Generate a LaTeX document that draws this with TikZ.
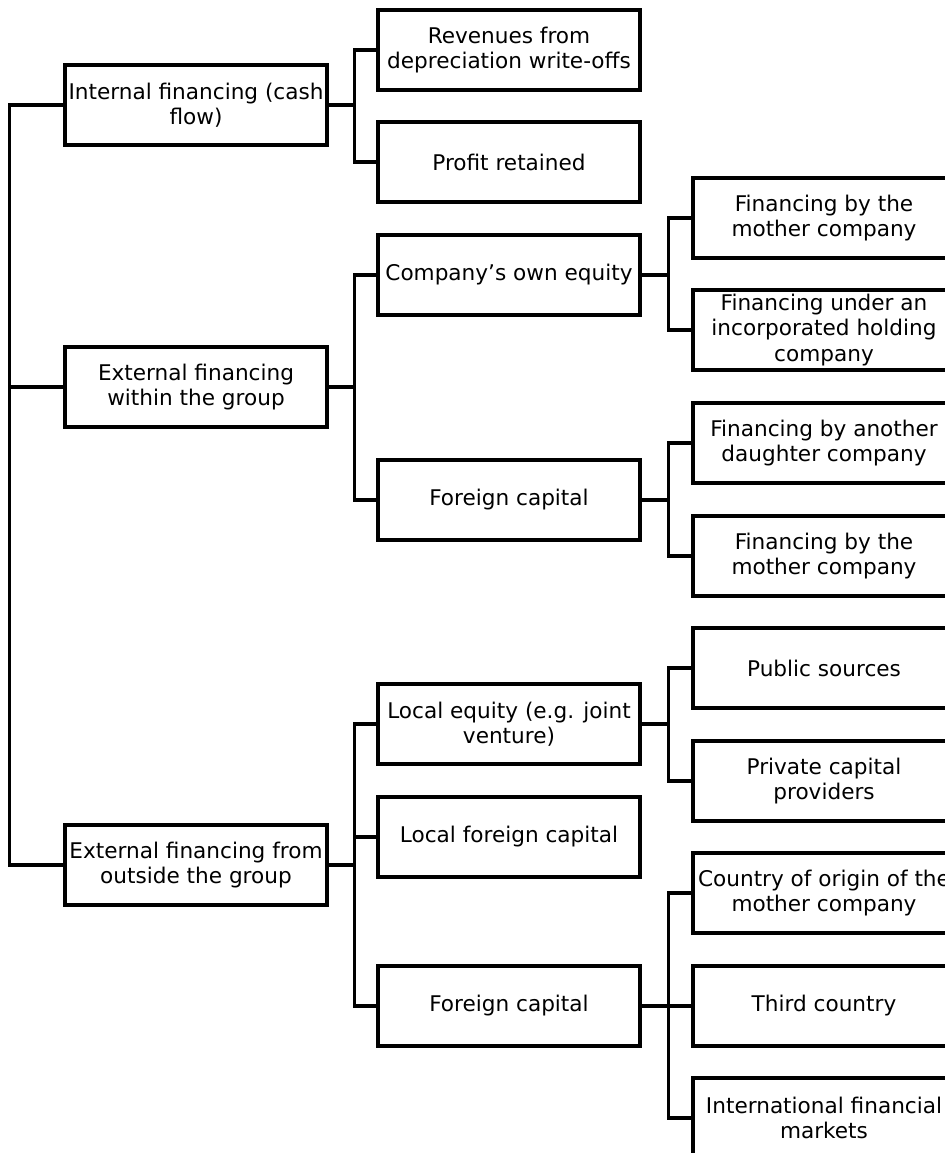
\documentclass[tikz,border=0pt]{standalone}
\usepackage{fontspec}
\setmainfont{DejaVu Sans}

\tikzset{
  fbox/.style={draw, line width=2.3pt, minimum width=196.5pt, minimum height=60pt,
    inner sep=0pt, align=center, font=\fontsize{16.2}{18.9}\selectfont},
  link/.style={line width=2.3pt}
}

\begin{document}
\begin{tikzpicture}[x=0.75pt,y=-0.75pt]
\useasboundingbox (0,0) rectangle (945,1153);
\clip (0,0) rectangle (945,1153);

% first column
\node[fbox] (int) at (196,105) {Internal financing (cash\\flow)};
\node[fbox] (grp) at (196,387) {External financing\\within the group};
\node[fbox] (out) at (196,865) {External financing from\\outside the group};

% second column
\node[fbox] (rev) at (509,50) {Revenues from\\depreciation write-offs};
\node[fbox] (profit) at (509,162) {Profit retained};
\node[fbox] (equity) at (509,275) {Company's own equity};
\node[fbox] (fcap) at (509,500) {Foreign capital};
\node[fbox] (loceq) at (509,724) {Local equity (e.g. joint\\venture)};
\node[fbox] (locfc) at (509,837) {Local foreign capital};
\node[fbox] (fcapo) at (509,1006) {Foreign capital};

% third column
\node[fbox] (mother) at (824,218) {Financing by the\\mother company};
\node[fbox] (holding) at (824,330) {Financing under an\\incorporated holding\\company};
\node[fbox] (daughter) at (824,443) {Financing by another\\daughter company};
\node[fbox] (mother2) at (824,556) {Financing by the\\mother company};
\node[fbox] (public) at (824,668) {Public sources};
\node[fbox] (private) at (824,781) {Private capital\\providers};
\node[fbox] (origin) at (824,893) {Country of origin of the\\mother company};
\node[fbox] (third) at (824,1006) {Third country};
\node[fbox] (intl) at (824,1118) {International financial\\markets};

% left spine
\draw[link] (int.west) -- ++(-54,0) coordinate (s0) |- (out.west);
\draw[link] (grp.west) -- (grp.west -| s0);

% forks into the second column
\draw[link] (int.east) -- ++(26,0) coordinate (s1);
\draw[link] (s1) |- (rev.west);
\draw[link] (s1) |- (profit.west);
\draw[link] (grp.east) -- ++(26,0) coordinate (s2);
\draw[link] (s2) |- (equity.west);
\draw[link] (s2) |- (fcap.west);
\draw[link] (out.east) -- ++(26,0) coordinate (s3);
\draw[link] (s3) |- (loceq.west);
\draw[link] (s3) |- (locfc.west);
\draw[link] (s3) |- (fcapo.west);

% forks into the third column
\draw[link] (equity.east) -- ++(27,0) coordinate (t1);
\draw[link] (t1) |- (mother.west);
\draw[link] (t1) |- (holding.west);
\draw[link] (fcap.east) -- ++(27,0) coordinate (t2);
\draw[link] (t2) |- (daughter.west);
\draw[link] (t2) |- (mother2.west);
\draw[link] (loceq.east) -- ++(27,0) coordinate (t3);
\draw[link] (t3) |- (public.west);
\draw[link] (t3) |- (private.west);
\draw[link] (fcapo.east) -- ++(27,0) coordinate (t4);
\draw[link] (t4) |- (origin.west);
\draw[link] (t4) -- (third.west);
\draw[link] (t4) |- (intl.west);
\end{tikzpicture}
\end{document}
